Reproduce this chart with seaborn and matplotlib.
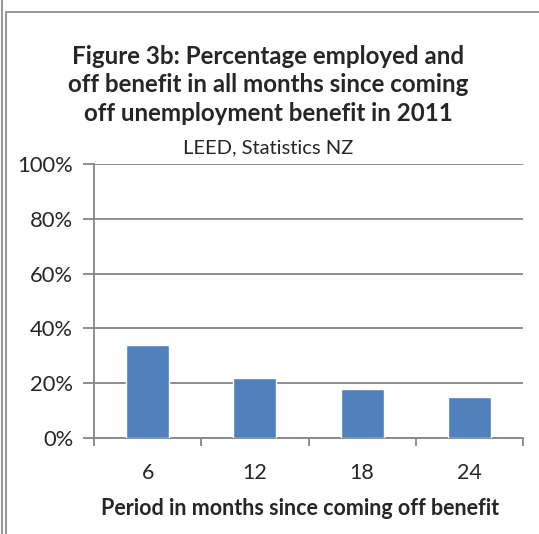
import matplotlib
matplotlib.use("Agg")
import matplotlib.pyplot as plt
from matplotlib.lines import Line2D
from matplotlib.ticker import PercentFormatter, FixedLocator
import pandas as pd
import seaborn as sns

# data
periods = ["6", "12", "18", "24"]
pct_employed = [34, 22, 18, 15]

title = ("Figure 3b: Percentage employed and\n"
         "off benefit in all months since coming\n"
         "off unemployment benefit in 2011")
subtitle = "LEED, Statistics NZ"
xlabel = "Period in months since coming off benefit"

df = pd.DataFrame({"period": periods, "pct": pct_employed})

sns.set_style("white")
plt.rcParams["font.family"] = ["Lato", "DejaVu Sans"]

W, H = 539, 534
fig = plt.figure(figsize=(W / 100, H / 100), dpi=100)
ax = fig.add_axes([94 / W, 1 - 438 / H, (523 - 94) / W, (438 - 164) / H])

sns.barplot(data=df, x="period", y="pct", color="#4F81BD", width=0.4,
            saturation=1, ax=ax, zorder=3)

grey = "#868686"
ax.set_ylim(0, 100)
ax.set_xlim(-0.5, 3.5)
ax.set_yticks(range(0, 101, 20))
ax.yaxis.set_major_formatter(PercentFormatter(decimals=0))
ax.grid(axis="y", color=grey, linewidth=1.3, zorder=0)
ax.grid(axis="x", visible=False)

for side in ["top", "right"]:
    ax.spines[side].set_visible(False)
for side in ["left", "bottom"]:
    ax.spines[side].set_color(grey)
    ax.spines[side].set_linewidth(1.3)

ax.tick_params(axis="y", length=8, width=1.3, color=grey, labelsize=15.8,
               pad=7, left=True)
ax.tick_params(axis="x", which="major", length=0, labelsize=15.5, pad=18)
ax.xaxis.set_minor_locator(FixedLocator([-0.5, 0.5, 1.5, 2.5, 3.5]))
ax.tick_params(axis="x", which="minor", length=6, width=1.3, color=grey,
               bottom=True)

ax.set_ylabel("")
ax.set_xlabel(xlabel, fontsize=15.5, fontweight="bold")
ax.xaxis.label.set_va("baseline")
ax.xaxis.set_label_coords((300 - 94) / 429, -(515 - 438) / 274)

fig.text(268 / W, 1 - 121 / H, title, ha="center", va="baseline",
         fontsize=17.4, fontweight="bold", linespacing=1.3)
fig.text(268 / W, 1 - 153 / H, subtitle, ha="center", va="baseline",
         fontsize=14.5)

# chart frame
fig.add_artist(Line2D([1.5 / W, 1.5 / W], [0, 1], color="#9a9a9a", lw=1.5))
fig.add_artist(Line2D([5.5 / W, 5.5 / W], [0, 1 - 12 / H], color="#9a9a9a", lw=1.5))
fig.add_artist(Line2D([5.5 / W, 1], [1 - 12 / H, 1 - 12 / H], color="#9a9a9a", lw=1.5))

fig.savefig("out.png", dpi=100)
